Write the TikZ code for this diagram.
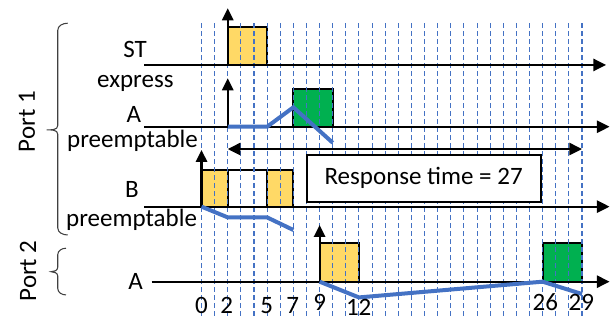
\documentclass[tikz,border=0pt]{standalone}
\usepackage{fontspec}
\setmainfont{Carlito}
\usetikzlibrary{arrows.meta}

\definecolor{jobyellow}{HTML}{FFD966}
\definecolor{jobgreen}{HTML}{00B050}
\definecolor{traceblue}{HTML}{4472C4}

\begin{document}
\begin{tikzpicture}[x=9.84pt,y=9.84pt,
    font=\fontsize{18.75}{22}\selectfont,
    job/.style={draw=black,line width=1.4pt},
    slot/.style={traceblue,line width=0.8pt,dash pattern=on 3.75pt off 2.25pt},
    timeline/.style={line width=1.5pt,-{Triangle[length=9.5pt,width=9.2pt]}},
    release/.style={line width=1.6pt,-{Triangle[length=9pt,width=8.5pt]}},
    trace/.style={traceblue,line width=3pt},
    portbrace/.style={draw=black!75,line width=0.8pt}]
  \useasboundingbox (-15.36,-2.92) rectangle (31.44,21.47);
  % heights of the four time lines
  \def\yST{16.52} \def\yA{11.81} \def\yB{5.72} \def\yP{0}

  % frames
  \filldraw[job,fill=jobyellow] (2,\yST) rectangle (5,\yST+2.87);
  \filldraw[job,fill=jobgreen] (7,\yA) rectangle (10,\yA+2.85);
  \filldraw[job,fill=jobyellow] (0,\yB) rectangle (2,\yB+2.8);
  \filldraw[job,fill=white] (2,\yB) rectangle (5,\yB+2.8);
  \filldraw[job,fill=jobyellow] (5,\yB) rectangle (7,\yB+2.8);
  \filldraw[job,fill=jobyellow] (9,\yP) rectangle (12,\yP+2.93);
  \filldraw[job,fill=jobgreen] (26,\yP) rectangle (29,\yP+2.93);

  % time slots
  \foreach \t in {0,...,29}{
    \draw[slot] (\t,-2.6) -- (\t,19.75);
  }

  % time lines
  \draw[timeline] (-4.38,\yST) -- (30.83,\yST);
  \draw[timeline] (-4.38,\yA) -- (31.1,\yA);
  \draw[timeline] (-4.38,\yB) -- (31.1,\yB);
  \draw[timeline] (-3.8,\yP) -- (31.1,\yP);

  % releases
  \draw[release] (2,\yST) -- ++(0,4.32);
  \draw[release] (2,\yA) -- ++(0,3.69);
  \draw[release] (0,\yB) -- ++(0,4.32);
  \draw[release] (9,\yP) -- ++(0,4.32);

  % queue traces
  \draw[trace] (2,\yA) -- (5,\yA) -- (7,\yA+1.48) -- (10,\yA-1.22);
  \draw[trace] (0,\yB) -- (2,\yB-0.82) -- (5,\yB-0.82) -- (7,\yB-1.78);
  \draw[trace] (9,\yP) -- (12,-1.2) -- (26,\yP) -- (29,-0.94);

  % response time
  \coordinate (rstart) at (2,10.11);
  \coordinate (rend) at (29,10.11);
  \draw[line width=1.5pt,{Triangle[length=9.5pt,width=9.2pt]}-{Triangle[length=9.5pt,width=9.2pt]}] (rstart) -- (rend);
  \node[draw,line width=1.4pt,fill=white,inner sep=0pt,
        minimum width=175.5pt,minimum height=35pt] (resp) at (16.93,7.88) {Response time = 27};

  % stream labels
  \node[anchor=base] (lblST) at (-5.07,17.10) {ST};
  \node[anchor=base] (lblexp) at (-5.04,14.82) {express};
  \node[anchor=base] (lblA) at (-5.15,12.16) {A};
  \node[anchor=base] (lblpreA) at (-5.26,10.19) {preemptable};
  \node[anchor=base] (lblB) at (-5.3,6.43) {B};
  \node[anchor=base] (lblpreB) at (-5.33,4.19) {preemptable};
  \node[anchor=base] (lblA2) at (-5.03,-0.56) {A};

  % ports
  \draw[portbrace] (-10.2,19.7) to[out=180,in=90] (-10.96,19.15) -- (-10.96,11.9)
    to[out=-90,in=0] (-11.8,11.57) to[out=0,in=90] (-10.96,11.24) -- (-10.96,4.11)
    to[out=-90,in=180] (-10.2,3.56);
  \draw[portbrace] (-10.33,2.55) to[out=180,in=90] (-10.96,2.05) -- (-10.96,1.09)
    to[out=-90,in=0] (-11.47,0.76) to[out=0,in=90] (-10.96,0.43) -- (-10.96,-0.51)
    to[out=-90,in=180] (-10.33,-1.01);
  \node[rotate=90] (port1) at (-13.3,12.2) {Port 1};
  \node[rotate=90] (port2) at (-13.22,0.82) {Port 2};

  % instants
  \foreach \t/\x/\y in {0/0/-2.4,2/1.92/-2.4,5/4.97/-2.4,7/6.95/-2.4,
                        9/9/-2.2,12/11.98/-2.55,26/26.2/-2.2,29/28.95/-2.2}{
    \node[anchor=base] (tick\t) at (\x,\y) {\t};
  }
\end{tikzpicture}
\end{document}
